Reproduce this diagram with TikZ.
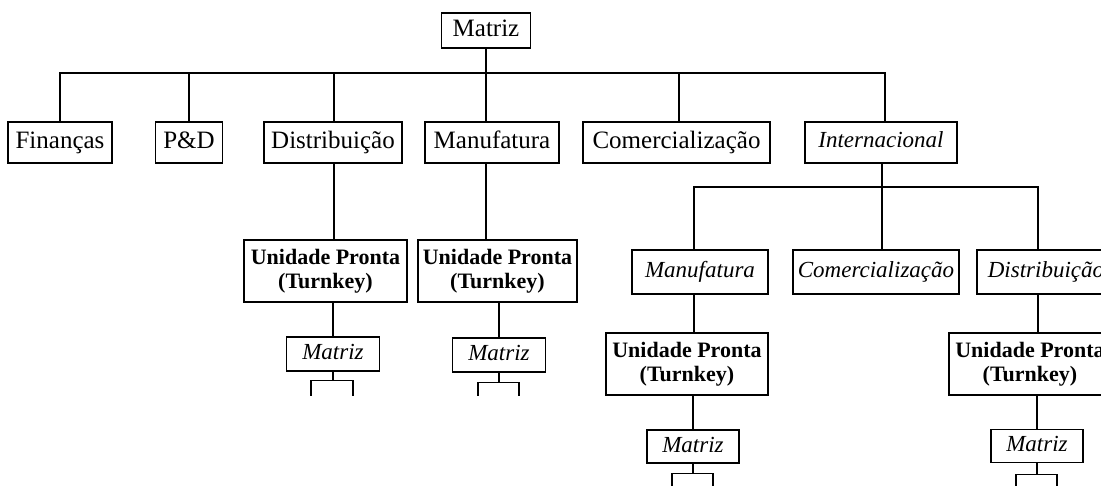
\documentclass[tikz,border=0pt]{standalone}
\usepackage{fontspec}
\setmainfont{Liberation Serif}
\begin{document}
\begin{tikzpicture}[x=1pt,y=-1pt,
  box/.style={draw, line width=1.2pt, inner sep=0pt, align=center},
  up/.style={box, font=\fontsize{25}{28}\selectfont, text height=17pt, text depth=5pt},
  itl/.style={box, font=\fontsize{23}{26}\selectfont\itshape, text height=16pt, text depth=5pt},
  bld/.style={box, font=\fontsize{22}{24}\selectfont\bfseries},
  con/.style={line width=1.2pt}]
\useasboundingbox (0,0) rectangle (1101,486);
\clip (0,0) rectangle (1101,486);
% top
\node[up, minimum width=89pt, minimum height=35pt] (top) at (486,30.5) {Matriz};
% level 1
\node[up, minimum width=104pt, minimum height=41pt] (fin) at (60,142.5) {Finanças};
\node[up, minimum width=67pt, minimum height=41pt] (pd) at (189,142.5) {P\&D};
\node[up, minimum width=138pt, minimum height=41pt] (dist) at (333,142.5) {Distribuição};
\node[up, minimum width=134pt, minimum height=41pt] (manuf) at (492,142.5) {Manufatura};
\node[up, minimum width=187pt, minimum height=41pt] (comerc) at (676.5,142.5) {Comercialização};
\node[itl, minimum width=152pt, minimum height=41pt] (intl) at (881,142.5) {Internacional};
% level 2 international
\node[itl, minimum width=136pt, minimum height=44pt] (mi) at (700,272) {Manufatura};
\node[itl, minimum width=166pt, minimum height=44pt] (ci) at (876,272) {Comercialização};
\node[itl, minimum width=138pt, minimum height=44pt] (di) at (1046,272) {Distribuição};
% turnkey units
\node[bld, minimum width=163pt, minimum height=62pt] (u1) at (325.5,271) {Unidade Pronta\\(Turnkey)};
\node[bld, minimum width=159pt, minimum height=62pt] (u2) at (497.5,271) {Unidade Pronta\\(Turnkey)};
\node[bld, minimum width=162pt, minimum height=62pt] (u3) at (687,364) {Unidade Pronta\\(Turnkey)};
\node[bld, minimum width=162pt, minimum height=62pt] (u4) at (1030,364) {Unidade Pronta\\(Turnkey)};
% small matriz
\node[itl, minimum width=93pt, minimum height=34pt] (m1) at (333,354) {Matriz};
\node[itl, minimum width=93pt, minimum height=34pt] (m2) at (499,355) {Matriz};
\node[itl, minimum width=92pt, minimum height=33pt] (m3) at (693,446.5) {Matriz};
\node[itl, minimum width=92pt, minimum height=33pt] (m4) at (1037,446) {Matriz};
% top bus
\coordinate (b1) at (486,73);
\draw[con] (top.south) -- (top.south |- b1);
\draw[con] (fin.north) |- (b1);
\draw[con] (pd.north) |- (b1);
\draw[con] ([xshift=1pt]dist.north) |- (b1);
\draw[con] (top.south |- manuf.north) -- (top.south |- b1);
\draw[con] ([xshift=2.5pt]comerc.north) |- (b1);
\draw[con] ([xshift=4pt]intl.north) |- (b1);
% international bus
\coordinate (b2) at (882,187);
\draw[con] ([xshift=1pt]intl.south) -- (b2);
\draw[con] ([xshift=-6pt]mi.north) |- (b2);
\draw[con] ([xshift=6pt]ci.north) |- (b2);
\draw[con] ([xshift=-8pt]di.north) |- (b2);
% branches down
\draw[con] ([xshift=1pt]dist.south) -- ([xshift=1pt]dist.south |- u1.north);
\draw[con] (m1.north |- u1.south) -- (m1.north);
\draw[con] (top.south |- manuf.south) -- (top.south |- u2.north);
\draw[con] (m2.north |- u2.south) -- (m2.north);
\draw[con] ([xshift=-6pt]mi.south) -- ([xshift=-6pt]mi.south |- u3.north);
\draw[con] (m3.north |- u3.south) -- (m3.north);
\draw[con] ([xshift=-8pt]di.south) -- ([xshift=-8pt]di.south |- u4.north);
\draw[con] (m4.north |- u4.south) -- (m4.north);
% brackets
\coordinate (m1l) at (311,396); \coordinate (m1r) at (353,396);
\draw[con] (m1.south) -- ([yshift=-9pt]m1.south);
\draw[con] (m1l) |- ([yshift=-9pt]m1.south) -| (m1r);
\coordinate (m2l) at (478,396); \coordinate (m2r) at (519,396);
\draw[con] (m2.south) -- ([yshift=-10pt]m2.south);
\draw[con] (m2l) |- ([yshift=-10pt]m2.south) -| (m2r);
\coordinate (m3l) at (672,490); \coordinate (m3r) at (713,490);
\draw[con] (m3.south) -- ([yshift=-10pt]m3.south);
\draw[con] (m3l) |- ([yshift=-10pt]m3.south) -| (m3r);
\coordinate (m4l) at (1016,490); \coordinate (m4r) at (1057,490);
\draw[con] (m4.south) -- ([yshift=-11pt]m4.south);
\draw[con] (m4l) |- ([yshift=-11pt]m4.south) -| (m4r);
\end{tikzpicture}
\end{document}
